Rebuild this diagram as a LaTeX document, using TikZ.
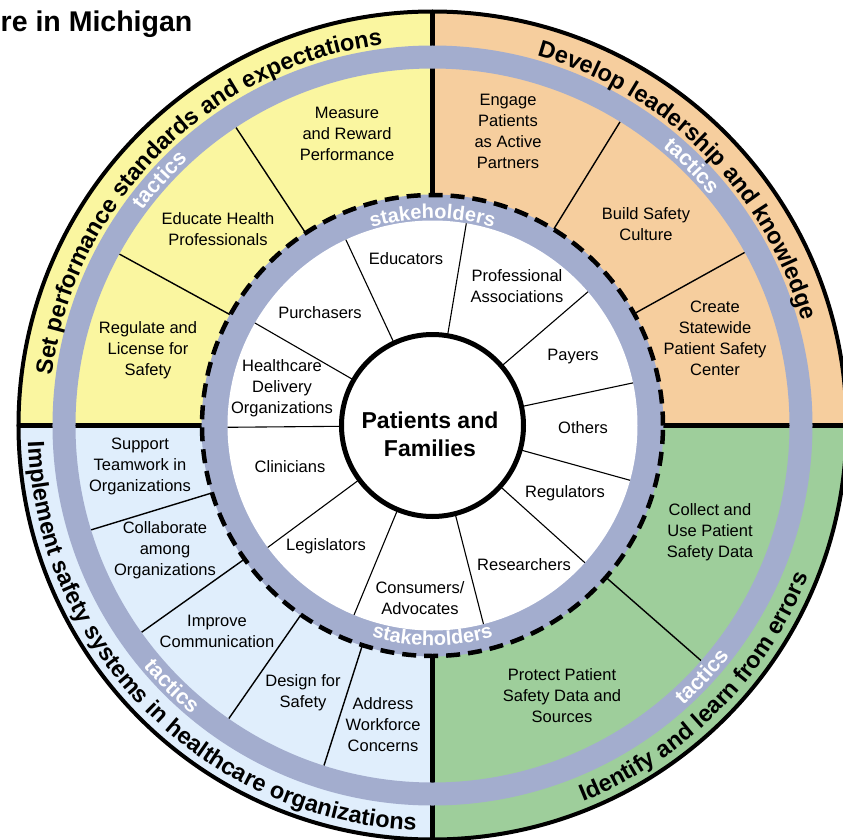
\documentclass[tikz,border=0pt]{standalone}
\usepackage{fontspec}
\setmainfont{Liberation Sans}
\usetikzlibrary{decorations.text}

\definecolor{standyellow}{RGB}{250,246,160}
\definecolor{leadpeach}{RGB}{246,206,158}
\definecolor{errgreen}{RGB}{158,206,155}
\definecolor{sysblue}{RGB}{224,238,252}
\definecolor{ringgray}{RGB}{163,173,206}

\newcommand{\quadfont}{\fontsize{23.5}{23.5}\selectfont\bfseries}
\newcommand{\ringfont}{\fontsize{20}{20}\selectfont\bfseries\color{white}}
\newcommand{\tacticsfont}{\fontsize{21.5}{21.5}\selectfont\bfseries\color{white}}

\tikzset{
	tactic/.style={align=center, inner sep=0pt, font=\fontsize{16.5}{21}\selectfont},
	holder/.style={tactic},
	spoke/.style={line width=1.4pt},
	divider/.style={line width=4.5pt},
	ringtext/.style={decorate, decoration={text along path, text align=center, text={#1}}},
}

\begin{document}
\begin{tikzpicture}[x=1pt, y=1pt]
	\useasboundingbox (-432.5,-413.5) rectangle (410.5,425.5);
	\clip (-432.5,-413.5) rectangle (410.5,425.5);
	\fill[white] (-432.5,-413.5) rectangle (410.5,425.5);

	% quadrants and their borders
	\foreach \a/\c in {0/leadpeach, 90/standyellow, 180/sysblue, 270/errgreen}
		\fill[\c] (0,0) -- (\a:414) arc[start angle=\a, delta angle=90, radius=414] -- cycle;
	\foreach \a in {0,90,180,270}
		\draw[divider] (\a:230) -- (\a:414);
	\foreach \a in {29,58.3,123.4,151.3,197,215.4,235.2,252.3,318.8}
		\draw[spoke] (\a:230) -- (\a:357);

	% rings
	\draw[ringgray, line width=23pt] (0,0) circle[radius=368.5];
	\fill[ringgray] (0,0) circle[radius=231];
	\fill[white] (0,0) circle[radius=205];
	\foreach \a in {12,40.7,80.5,115,150,180.5,216.5,247.5,284.4,318,344.5}
		\draw[spoke, line width=1.1pt] (\a:91) -- (\a:205);
	\draw[line width=4.5pt, dash pattern=on 14pt off 8pt] (0,0) circle[radius=230.5];
	\draw[line width=5pt, fill=white] (0,0) circle[radius=91];
	\draw[line width=4pt] (0,0) circle[radius=414];

	\node[anchor=base west, inner sep=0pt, font=\fontsize{28.5}{28.5}\selectfont\bfseries] (heading) at (-432,393.5) {re in Michigan};

	\path[ringtext={|\quadfont|Set performance standards and expectations}] (178:384) arc[start angle=178, end angle=92, radius=384];
	\path[ringtext={|\quadfont|Develop leadership and knowledge}] (88:384) arc[start angle=88, end angle=2, radius=384];
	\path[ringtext={|\quadfont|Implement safety systems in healthcare organizations}] (176:405) arc[start angle=176, end angle=274, radius=405];
	\path[ringtext={|\quadfont|Identify and learn from errors}] (-88:405) arc[start angle=-88, end angle=-2, radius=405];

	\path[ringtext={|\tacticsfont|tactics}] (150:361) arc[start angle=150, end angle=126, radius=361];
	\path[ringtext={|\tacticsfont|tactics}] (57:361) arc[start angle=57, end angle=33, radius=361];
	\path[ringtext={|\tacticsfont|tactics}] (213:376) arc[start angle=213, end angle=237, radius=376];
	\path[ringtext={|\tacticsfont|tactics}] (-55:376) arc[start angle=-55, end angle=-31, radius=376];
	\path[ringtext={|\ringfont|stakeholders}] (120:207) arc[start angle=120, end angle=60, radius=207];
	\path[ringtext={|\ringfont|stakeholders}] (240:220) arc[start angle=240, end angle=300, radius=220];

	% tactics
	\node[tactic] (measure) at (-85.5,291.5) {Measure\\and Reward\\Performance};
	\node[tactic] (educate) at (-214.5,196.5) {Educate Health\\Professionals};
	\node[tactic] (regulate) at (-284.5,75.5) {Regulate and\\License for\\Safety};
	\node[tactic] (engage) at (75.5,294.5) {Engage\\Patients\\as Active\\Partners};
	\node[tactic] (culture) at (213.5,201.5) {Build Safety\\Culture};
	\node[tactic] (statewide) at (282.5,87) {Create\\Statewide\\Patient Safety\\Center};
	\node[tactic] (collect) at (277.5,-106.5) {Collect and\\Use Patient\\Safety Data};
	\node[tactic] (protect) at (129.5,-270.5) {Protect Patient\\Safety Data and\\Sources};
	\node[tactic] (teamwork) at (-292.5,-40.5) {Support\\Teamwork in\\Organizations};
	\node[tactic] (collaborate) at (-267.5,-124.5) {Collaborate\\among\\Organizations};
	\node[tactic] (communication) at (-215.5,-206) {Improve\\Communication};
	\node[tactic] (design) at (-129.5,-267.5) {Design for\\Safety};
	\node[tactic] (workforce) at (-49.5,-299.5) {Address\\Workforce\\Concerns};

	% stakeholders
	\node[holder] (educators) at (-26.5,166.5) {Educators};
	\node[holder] (associations) at (84.5,139) {Professional\\Associations};
	\node[holder] (payers) at (140.5,68.5) {Payers};
	\node[holder] (others) at (150.5,-2.5) {Others};
	\node[holder] (regulators) at (132.5,-67.5) {Regulators};
	\node[holder] (researchers) at (91.5,-139.5) {Researchers};
	\node[holder] (consumers) at (-12.5,-173) {Consumers/\\Advocates};
	\node[holder] (legislators) at (-106.5,-120.5) {Legislators};
	\node[holder] (clinicians) at (-142.5,-41.5) {Clinicians};
	\node[holder] (delivery) at (-150.5,37.5) {Healthcare\\Delivery\\Organizations};
	\node[holder] (purchasers) at (-112.5,112.5) {Purchasers};
	\node[align=center, inner sep=0pt, font=\fontsize{23}{28}\selectfont\bfseries] (patients) at (-2.5,-8.5) {Patients and\\Families};
\end{tikzpicture}
\end{document}
